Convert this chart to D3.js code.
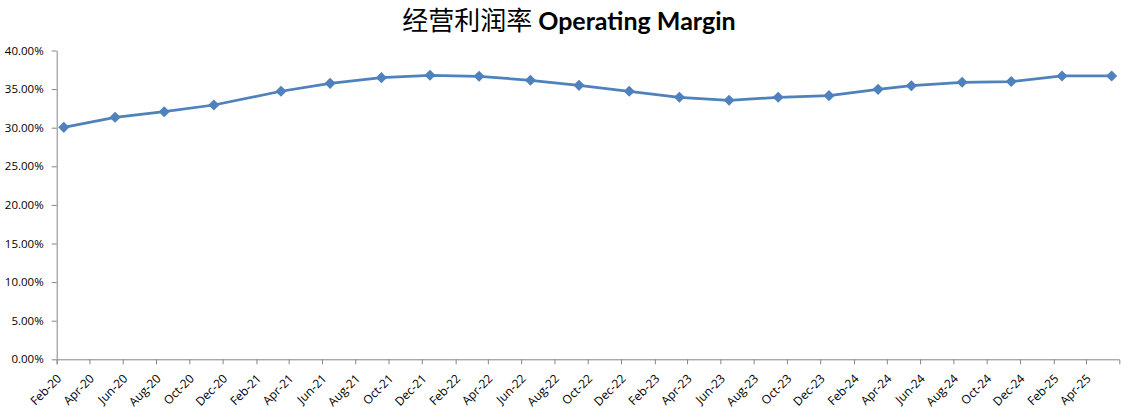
<!DOCTYPE html>
<html>
<head>
<meta charset="utf-8">
<script src="https://cdn.jsdelivr.net/npm/d3@7"></script>
<style>
  html, body { margin: 0; padding: 0; background: #fff; }
  svg { display: block; }
</style>
</head>
<body>
<svg id="chart" width="1137" height="419"></svg>
<script>
// ---- data ----
const dates = ["2020-02-14","2020-05-18","2020-08-16","2020-11-15","2021-03-18","2021-06-16",
  "2021-09-18","2021-12-16","2022-03-16","2022-06-18","2022-09-15","2022-12-16",
  "2023-03-18","2023-06-17","2023-09-15","2023-12-17","2024-03-16","2024-05-16",
  "2024-08-17","2024-11-15","2025-02-16","2025-05-18"];
const margins = [0.3005,0.3135,0.3207,0.3294,0.3472,0.3575,0.3648,0.3679,0.3666,0.3614,0.3549,0.3472,
  0.3394,0.3355,0.3394,0.3415,0.3497,0.3544,0.3588,0.3598,0.3670,0.3670];
const xTickLabels = ["Feb-20","Apr-20","Jun-20","Aug-20","Oct-20","Dec-20","Feb-21","Apr-21","Jun-21",
  "Aug-21","Oct-21","Dec-21","Feb-22","Apr-22","Jun-22","Aug-22","Oct-22","Dec-22","Feb-23","Apr-23",
  "Jun-23","Aug-23","Oct-23","Dec-23","Feb-24","Apr-24","Jun-24","Aug-24","Oct-24","Dec-24","Feb-25","Apr-25"];
const yTicks = [0,0.05,0.10,0.15,0.20,0.25,0.30,0.35,0.40];
const xDomain = ["2020-02-01","2025-06-01"];
const titleCN = "经营利润率";
const titleEN = "Operating Margin";

// ---- chart ----
const svg = d3.select("#chart");
const parseDay = d3.utcParse("%Y-%m-%d");
const parseTick = d3.utcParse("%b-%y");
const fmtTick = d3.utcFormat("%b-%y");

const x = d3.scaleUtc().domain(xDomain.map(parseDay)).range([56.7, 1119.3]);
const y = d3.scaleLinear().domain([0, 0.40]).range([359.3, 50.5]);

const axisColor = "#868686";
const lineColor = "#4F81BD";
const fontFam = "'Open Sans', 'Noto Sans', sans-serif";

// title
const title = svg.append("text")
  .attr("x", 569).attr("y", 30)
  .attr("text-anchor", "middle")
  .attr("fill", "#000");
title.append("tspan")
  .attr("font-family", "'Noto Sans CJK SC', sans-serif")
  .attr("font-size", 26)
  .text(titleCN + " ");
title.append("tspan")
  .attr("font-family", "Lato, 'Open Sans', sans-serif")
  .attr("font-weight", "bold")
  .attr("font-size", 25)
  .text(titleEN);

// y axis
const yAxis = svg.append("g")
  .attr("transform", "translate(56.7,0)")
  .call(d3.axisLeft(y).tickValues(yTicks).tickFormat(d3.format(".2%"))
    .tickSize(5).tickSizeOuter(0).tickPadding(8));
yAxis.selectAll("path, line").attr("stroke", axisColor);
yAxis.selectAll("text")
  .attr("font-family", fontFam).attr("font-size", 11.5).attr("fill", "#000");

// x axis
const xTickDates = xTickLabels.map(parseTick);
const xAxis = svg.append("g")
  .attr("transform", "translate(0,359.3)")
  .call(d3.axisBottom(x).tickValues(xTickDates).tickFormat(fmtTick)
    .tickSize(5).tickSizeOuter(5));
xAxis.selectAll("path, line").attr("stroke", axisColor);
xAxis.selectAll("text")
  .attr("font-family", fontFam).attr("font-size", 12).attr("fill", "#000")
  .attr("x", 0).attr("y", 0).attr("dy", 0)
  .attr("text-anchor", "end")
  .attr("transform", "translate(5,20) rotate(-45)");

// line
const pts = dates.map((d, i) => ({ date: parseDay(d), value: margins[i] }));
svg.append("path")
  .datum(pts)
  .attr("fill", "none")
  .attr("stroke", lineColor)
  .attr("stroke-width", 2.75)
  .attr("stroke-linejoin", "round")
  .attr("d", d3.line().x(d => x(d.date)).y(d => y(d.value)));

// markers (diamonds)
const sym = d3.symbol().type(d3.symbolSquare).size(62);
svg.append("g").selectAll("path")
  .data(pts).join("path")
  .attr("d", sym)
  .attr("fill", lineColor)
  .attr("transform", d => `translate(${x(d.date)},${y(d.value)}) rotate(45)`);
</script>
</body>
</html>
